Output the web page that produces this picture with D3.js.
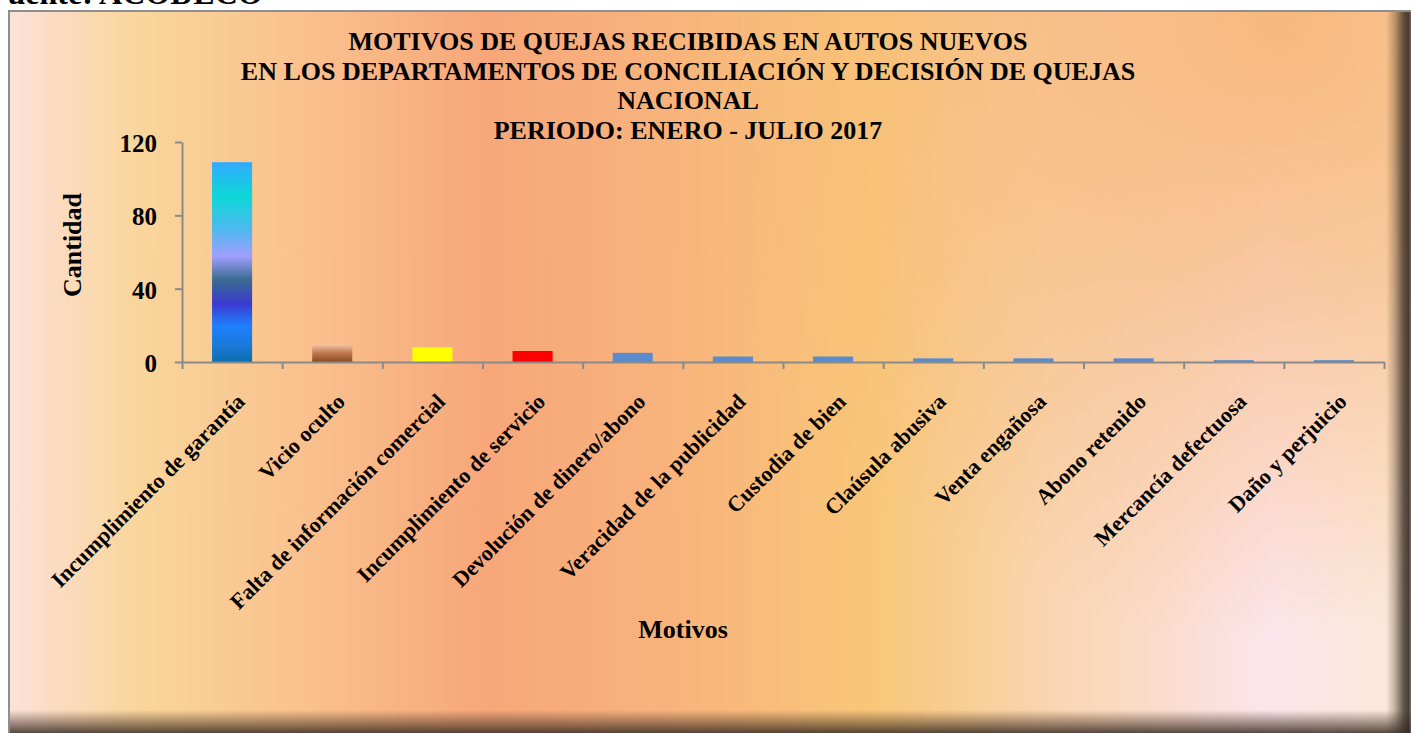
<!DOCTYPE html>
<html lang="es">
<head>
<meta charset="utf-8">
<title>Motivos de quejas recibidas en autos nuevos</title>
<script src="https://cdn.jsdelivr.net/npm/d3@7"></script>
<style>
  html, body { margin: 0; padding: 0; background: #fff; }
  svg { display: block; }
  text { font-family: "Liberation Serif", "Times New Roman", serif; font-weight: bold; fill: #000; }
</style>
</head>
<body>
<div id="chart"></div>
<script>
// ── Data ───────────────────────────────────────────────────────────────────
const motivos = [
  "Incumplimiento de garantía",
  "Vicio oculto",
  "Falta de información comercial",
  "Incumplimiento de servicio",
  "Devolución de dinero/abono",
  "Veracidad de la publicidad",
  "Custodia de bien",
  "Claúsula abusiva",
  "Venta engañosa",
  "Abono retenido",
  "Mercancía defectuosa",
  "Daño y perjuicio"
];
const cantidades = [109, 9, 8, 6, 5, 3, 3, 2, 2, 2, 1, 1];
const yTicks = [0, 40, 80, 120];
const titleLines = [
  "MOTIVOS DE QUEJAS RECIBIDAS EN AUTOS NUEVOS",
  "EN LOS DEPARTAMENTOS DE CONCILIACIÓN Y DECISIÓN DE QUEJAS",
  "NACIONAL",
  "PERIODO: ENERO - JULIO 2017"
];
const fuente = "Fuente: ACODECO";
const yTitle = "Cantidad";
const xTitle = "Motivos";

// ── Layout ─────────────────────────────────────────────────────────────────
const W = 1411, H = 733;
const FRAME = { x: 9, y: 11 };
const PLOT = { left: 182, right: 1384, top: 142, bottom: 362 };

// bar fills by position: first two are gradients, the rest are flat colours
const BAR_FILLS = ["url(#g-bar0)", "url(#g-bar1)", "#ffff00", "#ff0000"];
const BAR_DEFAULT = "#5a8bcc";

// ── SVG ────────────────────────────────────────────────────────────────────
const svg = d3.select("#chart").append("svg")
  .attr("width", W)
  .attr("height", H);

const defs = svg.append("defs");

function linearGrad(id, x1, y1, x2, y2, stops) {
  const g = defs.append("linearGradient")
    .attr("id", id)
    .attr("x1", x1).attr("y1", y1).attr("x2", x2).attr("y2", y2);
  stops.forEach(([o, c, op]) => {
    g.append("stop").attr("offset", o).attr("stop-color", c)
      .attr("stop-opacity", op == null ? 1 : op);
  });
  return g;
}

// background: horizontal sweep of pastel colours
linearGrad("g-bg", 0, 0, 1, 0, [
  [0.00, "#fce2dd"],
  [0.03, "#fbdcc4"],
  [0.09, "#f9d69c"],
  [0.21, "#f9c18e"],
  [0.34, "#f7a77a"],
  [0.47, "#f8b37c"],
  [0.62, "#f8c779"],
  [0.74, "#f9d5b0"],
  [0.82, "#fadccb"],
  [0.90, "#fce5ec"],
  [1.00, "#fbe9d6"]
]);

// top-right orange glow
const glow = defs.append("radialGradient")
  .attr("id", "g-glow")
  .attr("gradientUnits", "userSpaceOnUse")
  .attr("cx", 1280).attr("cy", 20).attr("r", 620);
[[0, 0.95], [0.45, 0.6], [1, 0]].forEach(([o, op]) => {
  glow.append("stop").attr("offset", o).attr("stop-color", "#f7b676").attr("stop-opacity", op);
});

// frame shadows
linearGrad("g-shadow-r", 0, 0, 1, 0, [
  [0.0, "#3a2e24", 0],
  [0.35, "#3a2e24", 0.3],
  [0.7, "#3a2e24", 0.78],
  [0.9, "#302826", 0.88],
  [1.0, "#5a5252", 0.8]
]);
linearGrad("g-shadow-b", 0, 0, 0, 1, [
  [0.0, "#4a3628", 0],
  [0.45, "#4a3628", 0.4],
  [1.0, "#3a2e26", 0.85]
]);

// first bar: multi-colour vertical gradient
linearGrad("g-bar0", 0, 0, 0, 1, [
  [0.00, "#33aaff"],
  [0.17, "#0dd8d8"],
  [0.34, "#50b8f0"],
  [0.47, "#a0a0ff"],
  [0.59, "#3a6a90"],
  [0.71, "#3a3ad0"],
  [0.82, "#1e80ff"],
  [0.92, "#1a78d8"],
  [1.00, "#0a70b0"]
]);

// second bar: tan to brown
linearGrad("g-bar1", 0, 0, 0, 1, [
  [0.0, "#e8bc9c"],
  [0.45, "#c07850"],
  [1.0, "#8a4a22"]
]);

// ── Source line (cropped at top, as in the original) ───────────────────────
svg.append("text")
  .attr("x", -12).attr("y", 4)
  .attr("font-size", 32)
  .text(fuente);

// ── Frame ──────────────────────────────────────────────────────────────────
svg.append("rect")
  .attr("x", FRAME.x).attr("y", FRAME.y)
  .attr("width", W - FRAME.x).attr("height", H - FRAME.y)
  .attr("fill", "url(#g-bg)");
svg.append("rect")
  .attr("x", FRAME.x).attr("y", FRAME.y)
  .attr("width", W - FRAME.x).attr("height", H - FRAME.y)
  .attr("fill", "url(#g-glow)");
svg.append("rect")
  .attr("x", FRAME.x).attr("y", 710)
  .attr("width", W - FRAME.x).attr("height", H - 710)
  .attr("fill", "url(#g-shadow-b)");
svg.append("rect")
  .attr("x", 1386).attr("y", FRAME.y)
  .attr("width", W - 1386).attr("height", H - FRAME.y)
  .attr("fill", "url(#g-shadow-r)");
svg.append("path")
  .attr("d", `M${FRAME.x},${H} V${FRAME.y} H${W}`)
  .attr("fill", "none")
  .attr("stroke", "#8e8e8e")
  .attr("stroke-width", 2);

// ── Title ──────────────────────────────────────────────────────────────────
svg.append("text")
  .attr("text-anchor", "middle")
  .attr("font-size", 26)
  .selectAll("tspan")
  .data(titleLines)
  .join("tspan")
  .attr("x", 688)
  .attr("y", (_, i) => 50 + i * 29.7)
  .text(d => d);

// ── Scales ─────────────────────────────────────────────────────────────────
const x = d3.scaleBand()
  .domain(motivos)
  .range([PLOT.left, PLOT.right])
  .paddingInner(0.6)
  .paddingOuter(0.3);

const xEdge = d3.scaleLinear()
  .domain([0, motivos.length])
  .range([PLOT.left, PLOT.right]);

const y = d3.scaleLinear()
  .domain([0, 120])
  .range([PLOT.bottom, PLOT.top]);

// ── Bars ───────────────────────────────────────────────────────────────────
svg.append("g")
  .selectAll("rect")
  .data(cantidades)
  .join("rect")
  .attr("x", (_, i) => x(motivos[i]))
  .attr("y", d => y(d))
  .attr("width", x.bandwidth())
  .attr("height", d => y(0) - y(d))
  .attr("fill", (_, i) => BAR_FILLS[i] || BAR_DEFAULT);

// ── Axes ───────────────────────────────────────────────────────────────────
const AXIS_COLOR = "#8a8a8a";

const yAxis = svg.append("g")
  .attr("transform", `translate(${PLOT.left},0)`)
  .call(d3.axisLeft(y).tickValues(yTicks).tickSize(7).tickSizeOuter(0).tickPadding(18));
yAxis.selectAll("text").attr("font-size", 25).attr("dy", "0.38em");

const xAxis = svg.append("g")
  .attr("transform", `translate(0,${PLOT.bottom})`)
  .call(d3.axisBottom(xEdge).ticks(motivos.length).tickSize(7).tickSizeOuter(0).tickFormat(""));

[yAxis, xAxis].forEach(ax => {
  ax.attr("font-family", null).attr("font-size", null);
  ax.selectAll("path, line").attr("stroke", AXIS_COLOR).attr("stroke-width", 2);
});

// rotated category labels
svg.append("g")
  .selectAll("text")
  .data(motivos)
  .join("text")
  .attr("transform", d => `translate(${x(d) + x.bandwidth() / 2 + 14},403) rotate(-45)`)
  .attr("text-anchor", "end")
  .attr("font-size", 22)
  .text(d => d);

// axis titles
svg.append("text")
  .attr("transform", "translate(81,245) rotate(-90)")
  .attr("text-anchor", "middle")
  .attr("font-size", 26)
  .text(yTitle);

svg.append("text")
  .attr("x", 683).attr("y", 638)
  .attr("text-anchor", "middle")
  .attr("font-size", 26)
  .text(xTitle);
</script>
</body>
</html>
